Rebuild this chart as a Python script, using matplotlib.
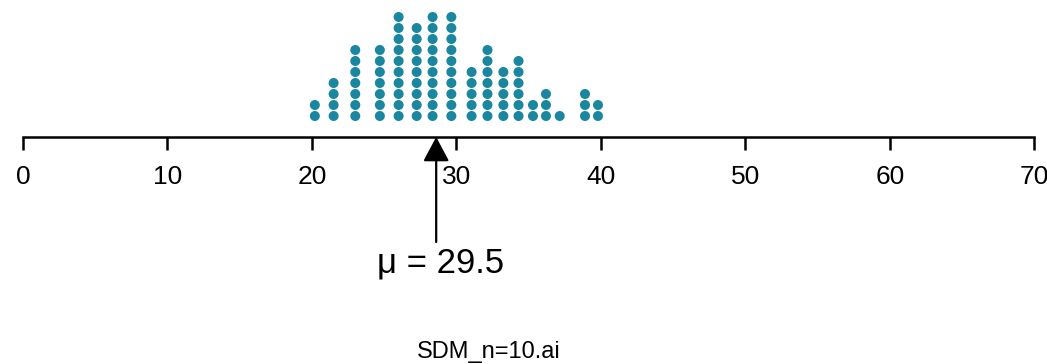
import numpy as np
import matplotlib
matplotlib.use("Agg")
import matplotlib.pyplot as plt
from matplotlib.patches import FancyArrowPatch, ArrowStyle

plt.rcParams.update({
    "font.family": ["Liberation Sans", "DejaVu Sans"],
    "font.size": 19,
})

# data: sample means of n=10, one column of dots per value
col_values = [20.2, 21.5, 23.0, 24.7, 26.0, 27.25, 28.35, 29.65, 31.05,
              32.15, 33.25, 34.3, 35.3, 36.2, 37.15, 38.9, 39.8]
col_counts = [2, 4, 7, 7, 10, 9, 10, 10, 5, 7, 5, 6, 2, 3, 1, 3, 2]

tick_values = [0, 10, 20, 30, 40, 50, 60, 70]
mu = 29.5
arrow_x = 28.6          # where the arrow points on the axis
mu_text = f"\u03bc = {mu}"
file_label = "SDM_n=10.ai"

dot_color = "#1a86a0"

# stacking the dots ----------------------------------------------
xs = []
ys = []
for val, n in zip(col_values, col_counts):
    for k in range(n):
        xs.append(val)
        ys.append(k)

# figure ----------------------------------------------------------
W, H = 1047, 364
fig = plt.figure(figsize=(W/100, H/100), dpi=100)
ax = fig.add_axes([0, 0, 1, 1])

# pixel based scaling: 0 -> 23px, 70 -> 1034px; one dot step = 11px
px_per_unit = (1034.3 - 23) / 70
ax.set_xlim(-23/px_per_unit, (W - 23)/px_per_unit)
base_px = 116
step_px = 11
ax.set_ylim((base_px - H)/step_px, base_px/step_px)

ax.scatter(xs, ys, s=52, color=dot_color, edgecolors="none", zorder=3)

axis_y = (base_px - 137)/step_px

# number line
for side in ["top", "left", "right"]:
    ax.spines[side].set_visible(False)
ax.spines["bottom"].set_position(("data", axis_y))
ax.spines["bottom"].set_bounds(0, 70)
ax.spines["bottom"].set_linewidth(1.8)
ax.set_yticks([])
ax.set_xticks(tick_values)
ax.set_xticklabels([str(t) for t in tick_values])
ax.tick_params(axis="x", direction="out", length=9.4, width=1.8, pad=10.5, labelsize=19)

# arrow to the mean
tail_y = (base_px - 242)/step_px
arrow = FancyArrowPatch((arrow_x, tail_y), (arrow_x, axis_y),
                        arrowstyle=ArrowStyle("-|>", head_length=15, head_width=8),
                        mutation_scale=1, lw=1.6, color="black",
                        shrinkA=0, shrinkB=0, zorder=4)
ax.add_patch(arrow)

fig.text(441/W, 1 - 263/H, mu_text, fontsize=25, ha="center", va="center")
fig.text(417/W, 1 - 352/H, file_label, fontsize=17, ha="left", va="center")

fig.savefig("out.png", dpi=100, facecolor="white")
